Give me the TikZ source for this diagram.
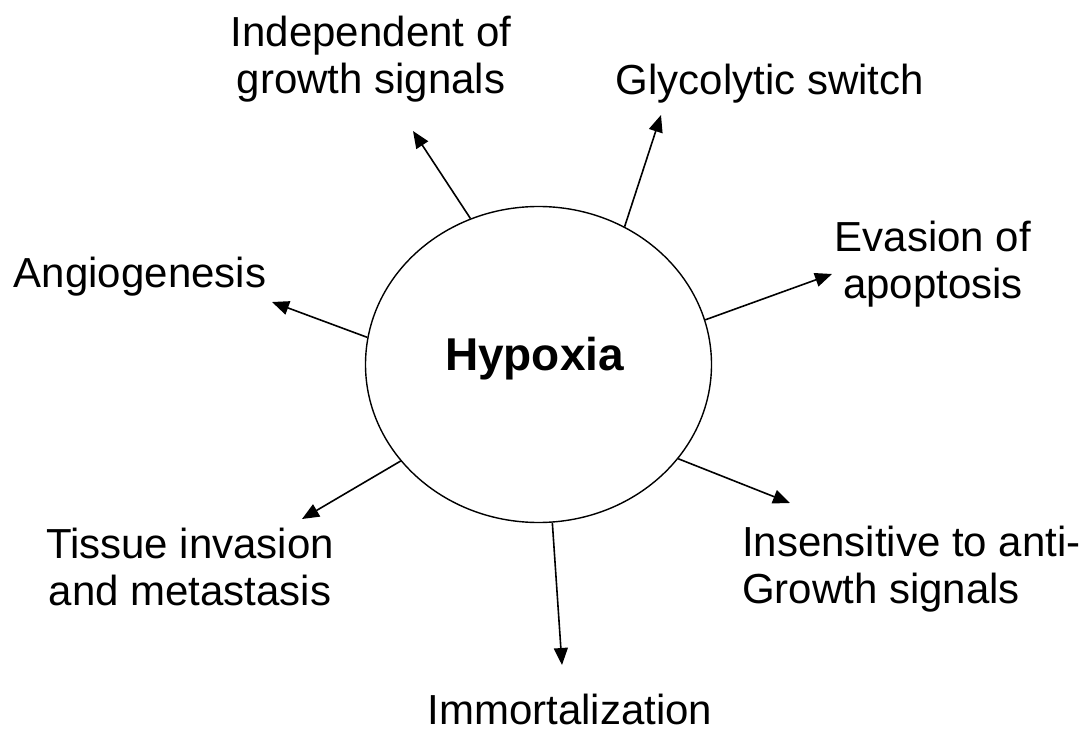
\documentclass[tikz,border=0pt]{standalone}
\usepackage{fontspec}
\setmainfont{Liberation Sans}
\usetikzlibrary{arrows.meta,shapes.geometric}
\begin{document}
\begin{tikzpicture}[x=1pt,y=-1pt,
  lbl/.style={font=\fontsize{42}{47}\selectfont, inner sep=0pt, anchor=base, align=center},
  arr/.style={line width=1.6pt, -{Triangle[length=17pt,width=14pt]}}]
\useasboundingbox (0,0) rectangle (1085,733);
\node[ellipse, draw, line width=1.4pt, minimum width=346pt, minimum height=316pt, inner sep=0pt] (hyp) at (538.5,364.5) {};
\node[font=\fontsize{46}{50}\selectfont\bfseries, inner sep=0pt, anchor=base] (hyptext) at (534.5,370) {Hypoxia};
% arrow tips
\coordinate (tInd) at (413,131);
\coordinate (tAng) at (272,302);
\coordinate (tGly) at (661,115);
\coordinate (tEva) at (832,274);
\coordinate (tTis) at (302,519);
\coordinate (tImm) at (562,665);
\coordinate (tIns) at (790,503);
\draw[arr] (hyp.115) -- (tInd);
\draw[arr] (hyp.171) -- (tAng);
\draw[arr] (hyp.58) -- (tGly);
\draw[arr] (hyp.15) -- (tEva);
\draw[arr] (hyp.215) -- (tTis);
\draw[arr] (hyp.275) -- (tImm);
\draw[arr] (hyp.326) -- (tIns);
% labels (base = baseline of last line)
\node[lbl] (ind) at (371,94) {Independent of\\growth signals};
\node[lbl] (gly) at (770,95) {Glycolytic switch};
\node[lbl] (eva) at (933,298) {Evasion of\\apoptosis};
\node[lbl] (ang) at (140,287) {Angiogenesis};
\node[lbl] (tis) at (190,605) {Tissue invasion\\and metastasis};
\node[lbl] (imm) at (570,724) {Immortalization};
\node[lbl, anchor=base west, align=left] (ins) at (742,603) {Insensitive to anti-\\Growth signals};
\end{tikzpicture}
\end{document}
